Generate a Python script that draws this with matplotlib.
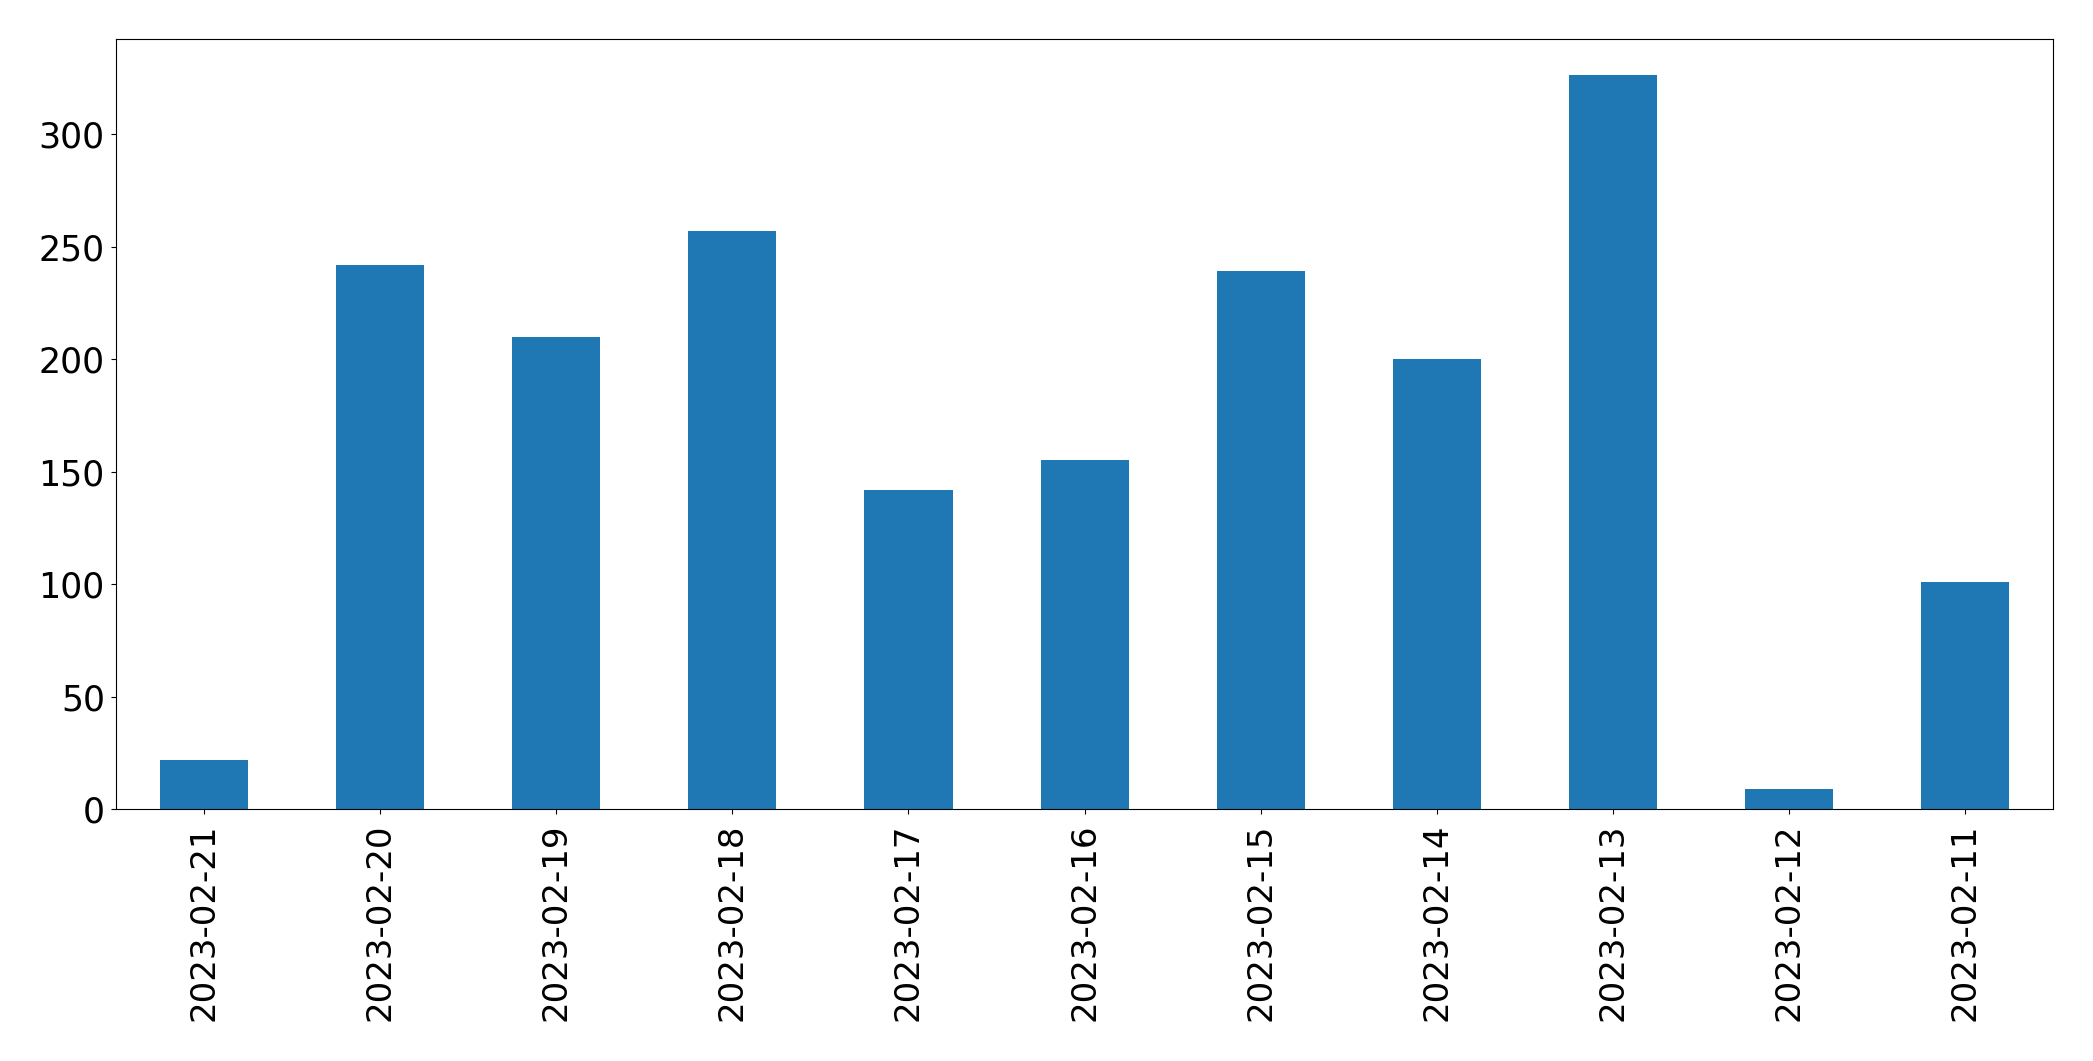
import matplotlib
matplotlib.use("Agg")
import matplotlib.pyplot as plt
import numpy as np

# daily counts, newest first
dates = ['2023-02-21', '2023-02-20', '2023-02-19', '2023-02-18', '2023-02-17',
         '2023-02-16', '2023-02-15', '2023-02-14', '2023-02-13', '2023-02-12',
         '2023-02-11']
counts = [22, 242, 210, 257, 142, 155, 239, 200, 326, 9, 101]

fig = plt.figure(figsize=(20.93, 10.61), dpi=100)
ax = fig.add_axes([0.0554, 0.2372, 0.9256, 0.7263])

x = np.arange(len(dates))
ax.bar(x, counts, width=0.5, color='#1f77b4')
ax.set_xlim(-0.5, len(dates) - 0.5)
ax.set_xticks(x)
ax.set_xticklabels(dates, rotation=90, fontsize=24.5)
ax.tick_params(axis='x', pad=7)
ax.tick_params(axis='y', labelsize=25, pad=4.5)

fig.savefig('out.png', dpi=100)
